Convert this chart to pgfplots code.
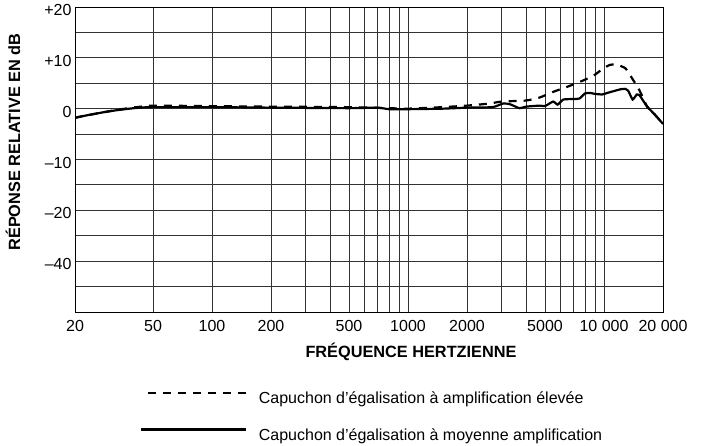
\documentclass[border=0pt]{standalone}
\usepackage{fontspec}
\setmainfont{Liberation Sans}
\usepackage{pgfplots}
\pgfplotsset{compat=1.18}
\pgfplotsset{
  imgdash/.style={legend image code/.code={\draw[##1, line width=2.8pt] (0pt,5.5pt) -- (98pt,5.5pt);}},
  imgsolid/.style={legend image code/.code={\draw[##1, line width=2.6pt] (-7pt,5.5pt) -- (98pt,5.5pt);}},
}

% solid: medium-boost cap
\pgfplotstableread{
f db
20 -1.8
22 -1.45
25 -1.05
28 -0.7
32 -0.35
36 -0.1
40 0.1
45 0.25
50 0.3
100 0.3
200 0.2
500 0.1
700 0.2
800 -0.1
1000 -0.1
1500 0.0
2000 0.2
2700 0.3
3050 1.0
3300 0.9
3700 0.1
4000 0.4
4700 0.6
5000 0.5
5500 1.4
5800 0.8
6200 1.8
7000 1.9
7500 2.0
8000 3.0
8500 3.1
9000 2.9
9800 2.8
10400 3.1
12100 3.8
12800 3.9
13300 3.5
14000 1.8
14700 2.8
15200 2.6
15700 1.8
16600 0.4
18200 -1.2
20000 -3.0
}\moyenne

% dashed: high-boost cap
\pgfplotstableread{
f db
20 -1.8
22 -1.45
25 -1.05
28 -0.7
32 -0.3
36 0.0
40 0.25
45 0.45
50 0.6
100 0.5
200 0.4
500 0.3
800 0.1
1000 0.0
1500 0.3
2000 0.6
2600 1.0
3000 1.4
4000 1.6
4700 2.2
5500 3.3
6700 4.5
7000 4.8
8000 5.7
9000 6.7
9900 7.9
10700 8.6
11600 8.7
12800 8.0
13300 7.2
14100 5.6
14900 4.2
15600 2.6
16600 0.4
18200 -1.2
20000 -3.0
}\elevee

\begin{document}
\begin{tikzpicture}
\begin{axis}[
  name=ax,
  scale only axis, width=588pt, height=305pt,
  xmode=log, xmin=20, xmax=20000, ymin=-40, ymax=20,
  log basis x=10,
  xtick={20,50,100,200,500,1000,2000,5000,10000,20000},
  xticklabels={20,50,100,200,500,1000,2000,5000,10 000,20 000},
  minor xtick={300,400,600,700,800,900,3000,4000,6000,7000,8000,9000},
  ytick={20,10,0,-10,-20,-30},
  yticklabels={+20,+10,0,–10,–20,–40},
  minor ytick={15,5,-5,-15,-25,-35},
  grid=both,
  major grid style={black!80, line width=0.9pt},
  minor grid style={black!80, line width=0.9pt},
  major tick length=0pt, minor tick length=0pt,
  axis line style={black, line width=1pt},
  tick label style={font=\fontsize{16}{19}\selectfont},
  xticklabel style={yshift=-5pt},
  yticklabel style={yshift=-3pt},
  legend style={at={(rel axis cs:0.1105,-0.343)}, anchor=west,
    draw=none, fill=none, inner sep=0pt, row sep=23pt, column sep=11pt,
    nodes={inner sep=0pt}, font=\fontsize{16}{19}\selectfont},
  legend cell align=left,
]
\addplot[black, line width=2.2pt, dash pattern=on 8pt off 7pt, imgdash, smooth, tension=0.3]
  table[x=f, y=db] {\elevee};
\addlegendentry{Capuchon d’égalisation à amplification élevée}
\addplot[black, line width=2.2pt, imgsolid, smooth, tension=0.3]
  table[x=f, y=db] {\moyenne};
\addlegendentry{Capuchon d’égalisation à moyenne amplification}
\end{axis}
\node[font=\bfseries\fontsize{16.3}{19}\selectfont, rotate=90]
  at ([xshift=-62pt, yshift=170pt]ax.south west) {RÉPONSE RELATIVE EN dB};
\node[font=\bfseries\fontsize{16.3}{19}\selectfont]
  at ([xshift=336pt, yshift=-40pt]ax.south west) {FRÉQUENCE HERTZIENNE};
\pgfresetboundingbox
\path ([shift={(-75pt,-133pt)}]ax.south west) rectangle ([shift={(40pt,7pt)}]ax.north east);
\end{tikzpicture}
\end{document}
